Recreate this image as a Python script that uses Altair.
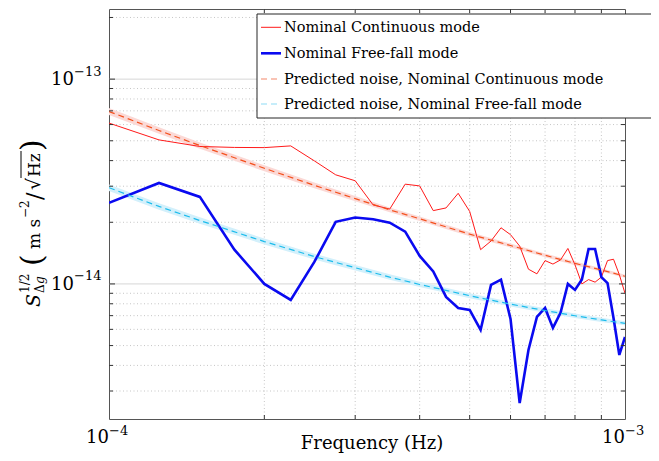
import altair as alt
import pandas as pd

FONT = "DejaVu Serif"
W, H = 516, 410

# ---------------- data ----------------
freq = [1.00e-4, 1.25e-4, 1.50e-4, 1.75e-4, 2.00e-4, 2.25e-4, 2.50e-4, 2.75e-4,
        3.00e-4, 3.25e-4, 3.50e-4, 3.75e-4, 4.00e-4, 4.25e-4, 4.50e-4, 4.75e-4,
        5.00e-4, 5.25e-4, 5.50e-4, 5.75e-4, 6.00e-4, 6.25e-4, 6.50e-4, 6.75e-4,
        7.00e-4, 7.25e-4, 7.50e-4, 7.75e-4, 8.00e-4, 8.25e-4, 8.50e-4, 8.75e-4,
        9.00e-4, 9.25e-4, 9.50e-4, 9.75e-4, 1.00e-3]

cont_mode = [6.10e-14, 5.05e-14, 4.69e-14, 4.64e-14, 4.63e-14, 4.72e-14, 3.99e-14, 3.41e-14,
             3.19e-14, 2.43e-14, 2.32e-14, 3.07e-14, 3.01e-14, 2.28e-14, 2.35e-14, 2.77e-14,
             2.26e-14, 1.47e-14, 1.62e-14, 1.88e-14, 1.74e-14, 1.53e-14, 1.18e-14, 1.12e-14,
             1.30e-14, 1.25e-14, 1.31e-14, 1.49e-14, 1.24e-14, 1.00e-14, 1.05e-14, 1.02e-14,
             1.08e-14, 1.30e-14, 1.32e-14, 1.11e-14, 9.0e-15]

ff_mode = [2.49e-14, 3.11e-14, 2.66e-14, 1.47e-14, 1.00e-14, 8.35e-15, 1.28e-14, 2.01e-14,
           2.11e-14, 2.07e-14, 1.99e-14, 1.80e-14, 1.37e-14, 1.15e-14, 8.64e-15, 7.63e-15,
           7.46e-15, 5.96e-15, 9.89e-15, 1.05e-14, 6.75e-15, 2.62e-15, 4.76e-15, 6.90e-15,
           7.63e-15, 6.10e-15, 7.22e-15, 1.00e-14, 9.35e-15, 1.05e-14, 1.48e-14, 1.48e-14,
           1.08e-14, 1.01e-14, 6.82e-15, 4.50e-15, 5.51e-15]

pred_freq = [1.0e-4, 1.25e-4, 1.5e-4, 2.0e-4, 2.5e-4, 3.0e-4, 3.5e-4, 4.0e-4,
             5.0e-4, 6.0e-4, 7.0e-4, 8.0e-4, 9.0e-4, 1.0e-3]
pred_cont = [6.95e-14, 5.61e-14, 4.74e-14, 3.67e-14, 3.03e-14, 2.61e-14, 2.30e-14, 2.08e-14,
             1.75e-14, 1.54e-14, 1.38e-14, 1.26e-14, 1.17e-14, 1.09e-14]
pred_ff = [2.95e-14, 2.39e-14, 2.04e-14, 1.61e-14, 1.36e-14, 1.20e-14, 1.08e-14, 9.94e-15,
           8.76e-15, 7.97e-15, 7.41e-15, 6.99e-15, 6.67e-15, 6.42e-15]
pred_cont_rel = [0.040, 0.038, 0.036, 0.034, 0.032, 0.030, 0.028, 0.026,
                 0.024, 0.022, 0.021, 0.020, 0.019, 0.018]
pred_ff_rel = [0.038, 0.037, 0.036, 0.034, 0.033, 0.032, 0.031, 0.030,
               0.028, 0.027, 0.026, 0.025, 0.024, 0.023]

legend_labels = ["Nominal Continuous mode", "Nominal Free-fall mode",
                 "Predicted noise, Nominal Continuous mode",
                 "Predicted noise, Nominal Free-fall mode"]

x_major = [1e-4, 1e-3]
x_major_exp = ["\u22124", "\u22123"]
x_minor = [2e-4, 3e-4, 4e-4, 5e-4, 6e-4, 7e-4, 8e-4, 9e-4]
y_major = [1e-14, 1e-13]
y_major_exp = ["\u221214", "\u221213"]
y_minor = [3e-15, 4e-15, 5e-15, 6e-15, 7e-15, 8e-15, 9e-15,
           2e-14, 3e-14, 4e-14, 5e-14, 6e-14, 7e-14, 8e-14, 9e-14, 2e-13]

# ---------------- scales ----------------
xs = alt.Scale(type="log", domain=[1e-4, 1e-3], nice=False)
ys = alt.Scale(type="log", domain=[2.19e-15, 2.2e-13], nice=False)
X = alt.X("f:Q", scale=xs, axis=None)
Y = alt.Y("v:Q", scale=ys, axis=None)

df_c = pd.DataFrame({"f": freq, "v": cont_mode})
df_f = pd.DataFrame({"f": freq, "v": ff_mode})
df_pc = pd.DataFrame({"f": pred_freq, "v": pred_cont,
                      "lo": [v / (1 + r) for v, r in zip(pred_cont, pred_cont_rel)],
                      "hi": [v * (1 + r) for v, r in zip(pred_cont, pred_cont_rel)]})
df_pf = pd.DataFrame({"f": pred_freq, "v": pred_ff,
                      "lo": [v / (1 + r) for v, r in zip(pred_ff, pred_ff_rel)],
                      "hi": [v * (1 + r) for v, r in zip(pred_ff, pred_ff_rel)]})

RED = "#ff1a1a"
BLUE = "#0a0af0"
ORANGE = "#f4511e"
CYAN = "#1cbcec"

layers = []

# ---------------- grid ----------------
def vrules(vals, y0, y1, **kw):
    return alt.Chart(pd.DataFrame({"t": vals})).mark_rule(**kw).encode(
        x=alt.X("t:Q", scale=xs, axis=None), y=alt.value(y0), y2=alt.value(y1))

def hrules(vals, x0, x1, **kw):
    return alt.Chart(pd.DataFrame({"t": vals})).mark_rule(**kw).encode(
        y=alt.Y("t:Q", scale=ys, axis=None), x=alt.value(x0), x2=alt.value(x1))

grid_minor = dict(color="#b8b8b8", strokeWidth=0.8, strokeDash=[1, 2.5])
layers.append(vrules(x_minor, 0, H, **grid_minor))
layers.append(hrules(y_minor, 0, W, **grid_minor))
layers.append(hrules(y_major, 0, W, color="#d6d6d6", strokeWidth=1))

# ---------------- bands and lines ----------------
layers.append(alt.Chart(df_pc).mark_area(color="#fbd9d6", clip=True).encode(
    x=X, y=alt.Y("lo:Q", scale=ys, axis=None), y2="hi:Q"))
layers.append(alt.Chart(df_pf).mark_area(color="#d3f0fb", clip=True).encode(
    x=X, y=alt.Y("lo:Q", scale=ys, axis=None), y2="hi:Q"))
layers.append(alt.Chart(df_c).mark_line(color=RED, strokeWidth=1, clip=True).encode(x=X, y=Y))
layers.append(alt.Chart(df_f).mark_line(color=BLUE, strokeWidth=2.6, clip=True).encode(x=X, y=Y))
layers.append(alt.Chart(df_pc).mark_line(color=ORANGE, strokeWidth=1.2, strokeDash=[6, 4], clip=True).encode(x=X, y=Y))
layers.append(alt.Chart(df_pf).mark_line(color=CYAN, strokeWidth=1.2, strokeDash=[6, 4], clip=True).encode(x=X, y=Y))

# ---------------- inward ticks ----------------
TK = dict(color="#333333", strokeWidth=1)
layers.append(vrules(x_minor, 0, 4, **TK))
layers.append(vrules(x_minor, H, H - 4, **TK))
layers.append(hrules(y_minor, 0, 4, **TK))
layers.append(hrules(y_minor, W, W - 4, **TK))
layers.append(hrules(y_major, 0, 6, **TK))
layers.append(hrules(y_major, W, W - 6, **TK))

# ---------------- tick labels ----------------
df_xl = pd.DataFrame({"t": x_major, "e": x_major_exp})
df_yl = pd.DataFrame({"t": y_major, "e": y_major_exp})
layers.append(alt.Chart(df_xl).mark_text(font=FONT, fontSize=18, align="right", baseline="alphabetic", color="#000").encode(
    x=alt.X("t:Q", scale=xs, axis=None), y=alt.value(434), text=alt.value("10")))
layers.append(alt.Chart(df_xl).mark_text(font=FONT, fontSize=13, align="left", baseline="alphabetic", color="#000").encode(
    x=alt.X("t:Q", scale=xs, axis=None), y=alt.value(426), text="e:N"))
layers.append(alt.Chart(df_yl).mark_text(font=FONT, fontSize=18, align="right", baseline="alphabetic", dy=6, color="#000").encode(
    y=alt.Y("t:Q", scale=ys, axis=None), x=alt.value(-35), text=alt.value("10")))
layers.append(alt.Chart(df_yl).mark_text(font=FONT, fontSize=13, align="left", baseline="alphabetic", dy=-3.5, color="#000").encode(
    y=alt.Y("t:Q", scale=ys, axis=None), x=alt.value(-35), text="e:N"))

# ---------------- titles ----------------
one = pd.DataFrame({"a": [0]})

def txt(s, x, y, size, angle=0, italic=False, align="left", baseline="alphabetic"):
    kw = dict(text=s, fontSize=size, font=FONT, align=align, baseline=baseline, color="#000")
    if angle:
        kw["angle"] = angle
    if italic:
        kw["fontStyle"] = "italic"
    return alt.Chart(one).mark_text(**kw).encode(x=alt.value(x), y=alt.value(y))

layers.append(txt("Frequency (Hz)", 263, 440, 18, align="center"))
A = 270
layers.append(txt("S", -69, 298, 19, angle=A, italic=True))
layers.append(txt("1/2", -80, 284, 12, angle=A))
layers.append(txt("\u0394", -65, 284, 12, angle=A))
layers.append(txt("g", -65, 275, 12, angle=A, italic=True))
layers.append(txt("(", -67, 257, 30, angle=A))
layers.append(txt("m s", -69, 240, 17, angle=A))
layers.append(txt("\u22122", -80, 209, 12, angle=A))
layers.append(txt("/", -67, 191, 22, angle=A))
layers.append(txt("\u221a", -69, 181, 19, angle=A))
layers.append(txt("Hz", -69, 168, 17, angle=A))
layers.append(alt.Chart(one).mark_rule(color="#000", strokeWidth=1).encode(
    x=alt.value(-88), y=alt.value(169), y2=alt.value(142)))
layers.append(txt(")", -67, 142, 30, angle=A))

# ---------------- legend ----------------
layers.append(alt.Chart(one).mark_rect(fill="white", stroke="#262626", strokeWidth=1).encode(
    x=alt.value(148), x2=alt.value(603), y=alt.value(5), y2=alt.value(109)))
rows = [18.3, 44.3, 70, 95]
styles = [dict(color=RED, strokeWidth=1),
          dict(color=BLUE, strokeWidth=2.6),
          dict(color="#f4886a", strokeWidth=1.2, strokeDash=[6, 4]),
          dict(color="#8edcf6", strokeWidth=1.2, strokeDash=[6, 4])]
for r, st, lab in zip(rows, styles, legend_labels):
    layers.append(alt.Chart(one).mark_rule(**st).encode(
        x=alt.value(152), x2=alt.value(172), y=alt.value(r)))
    layers.append(txt(lab, 175, r + 5, 14.5))

chart = alt.layer(*layers).properties(
    width=W, height=H,
    padding={"left": 101, "top": 1, "right": 26, "bottom": 34},
    autosize=alt.AutoSizeParams(type="none"),
).configure_view(stroke="#555555", strokeWidth=1)

chart.save("out.html", embed_options={"renderer": "svg", "actions": False})
